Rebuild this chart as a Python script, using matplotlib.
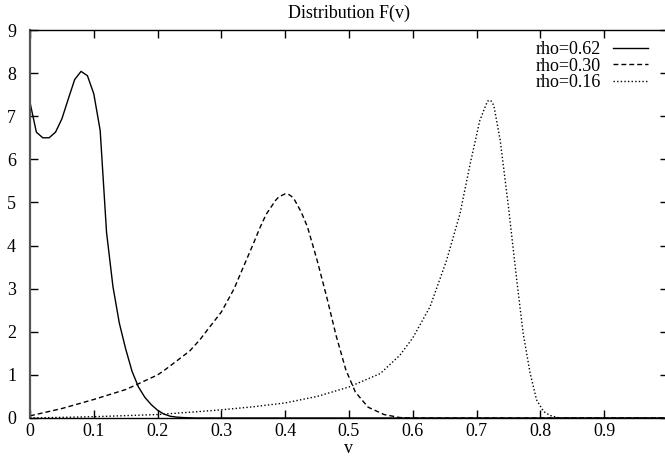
import matplotlib.pyplot as plt

# values
v_062 = [0, 0.01, 0.02, 0.03, 0.04, 0.05, 0.06, 0.07, 0.08, 0.09, 0.10, 0.11,
         0.12, 0.13, 0.14, 0.15, 0.16, 0.17, 0.18, 0.19, 0.20, 0.21, 0.22,
         0.23, 0.24, 0.26, 1.0]
F_062 = [7.32, 6.63, 6.50, 6.50, 6.63, 6.94, 7.40, 7.85, 8.04, 7.94, 7.52,
         6.67, 4.30, 3.05, 2.20, 1.60, 1.08, 0.72, 0.48, 0.31, 0.18, 0.09,
         0.04, 0.02, 0.01, 0.0, 0.0]

v_030 = [0, 0.05, 0.10, 0.15, 0.165, 0.20, 0.21, 0.25, 0.266, 0.28, 0.30,
         0.32, 0.33, 0.35, 0.36, 0.37, 0.385, 0.39, 0.40, 0.405, 0.41, 0.415,
         0.425, 0.435, 0.45, 0.465, 0.48, 0.495, 0.51, 0.53, 0.555, 0.58,
         0.60, 1.0]
F_030 = [0.05, 0.22, 0.43, 0.66, 0.76, 1.0, 1.1, 1.55, 1.81, 2.08, 2.46,
         3.0, 3.35, 4.04, 4.40, 4.72, 5.05, 5.13, 5.20, 5.19, 5.14, 5.05,
         4.78, 4.43, 3.66, 2.81, 1.90, 1.12, 0.60, 0.25, 0.08, 0.01,
         0.0, 0.0]

v_016 = [0, 0.10, 0.20, 0.266, 0.30, 0.35, 0.40, 0.45, 0.50, 0.549, 0.58,
         0.60, 0.627, 0.653, 0.674, 0.69, 0.705, 0.717, 0.722, 0.727, 0.737,
         0.75, 0.763, 0.773, 0.784, 0.794, 0.805, 0.815, 0.83, 1.0]
F_016 = [0.0, 0.03, 0.08, 0.15, 0.19, 0.26, 0.35, 0.50, 0.72, 1.03, 1.46,
         1.86, 2.58, 3.66, 4.74, 5.90, 6.90, 7.35, 7.37, 7.25, 6.44,
         4.89, 3.19, 1.96, 1.03, 0.42, 0.15, 0.06, 0.0, 0.0]

plt.rcParams['font.family'] = ['Liberation Serif', 'DejaVu Serif']

fig = plt.figure(figsize=(6.65, 4.57), dpi=100)
ax = fig.add_axes([30/665, 39/457, 638/665, 388/457])

ax.plot(v_062, F_062, color='black', lw=1.0, label='rho=0.62')
ax.plot(v_030, F_030, color='black', lw=1.0, linestyle=(0, (3.5, 2.2)), label='rho=0.30')
ax.plot(v_016, F_016, color='black', lw=1.0, linestyle=(0, (1, 1.6)), label='rho=0.16')

ax.set_xlim(0, 1)
ax.set_ylim(0, 9)
ax.set_xticks([0, 0.1, 0.2, 0.3, 0.4, 0.5, 0.6, 0.7, 0.8, 0.9, 1])
ax.set_xticklabels(['0', '0.1', '0.2', '0.3', '0.4', '0.5', '0.6', '0.7', '0.8', '0.9', '1'])
ax.set_yticks(range(10))
ax.tick_params(direction='in', length=6, width=1, top=True, right=True, labelsize=13, pad=3.5)
ax.tick_params(axis='y', pad=10)
for s in ax.spines.values():
    s.set_linewidth(1.0)
ax.spines['left'].set_linewidth(1.6)
ax.spines['left'].set_color('#555555')

ax.set_title('Distribution F(v)', fontsize=13, pad=9)
ax.set_xlabel('v', fontsize=13, labelpad=0)

ax.legend(loc='upper right', bbox_to_anchor=(648/665, 1 - 41/457),
          bbox_transform=fig.transFigure, frameon=False, markerfirst=False,
          fontsize=13, handlelength=1.95, handletextpad=0.65,
          labelspacing=-0.02, borderpad=0, borderaxespad=0)

fig.savefig('out.png', dpi=100)
